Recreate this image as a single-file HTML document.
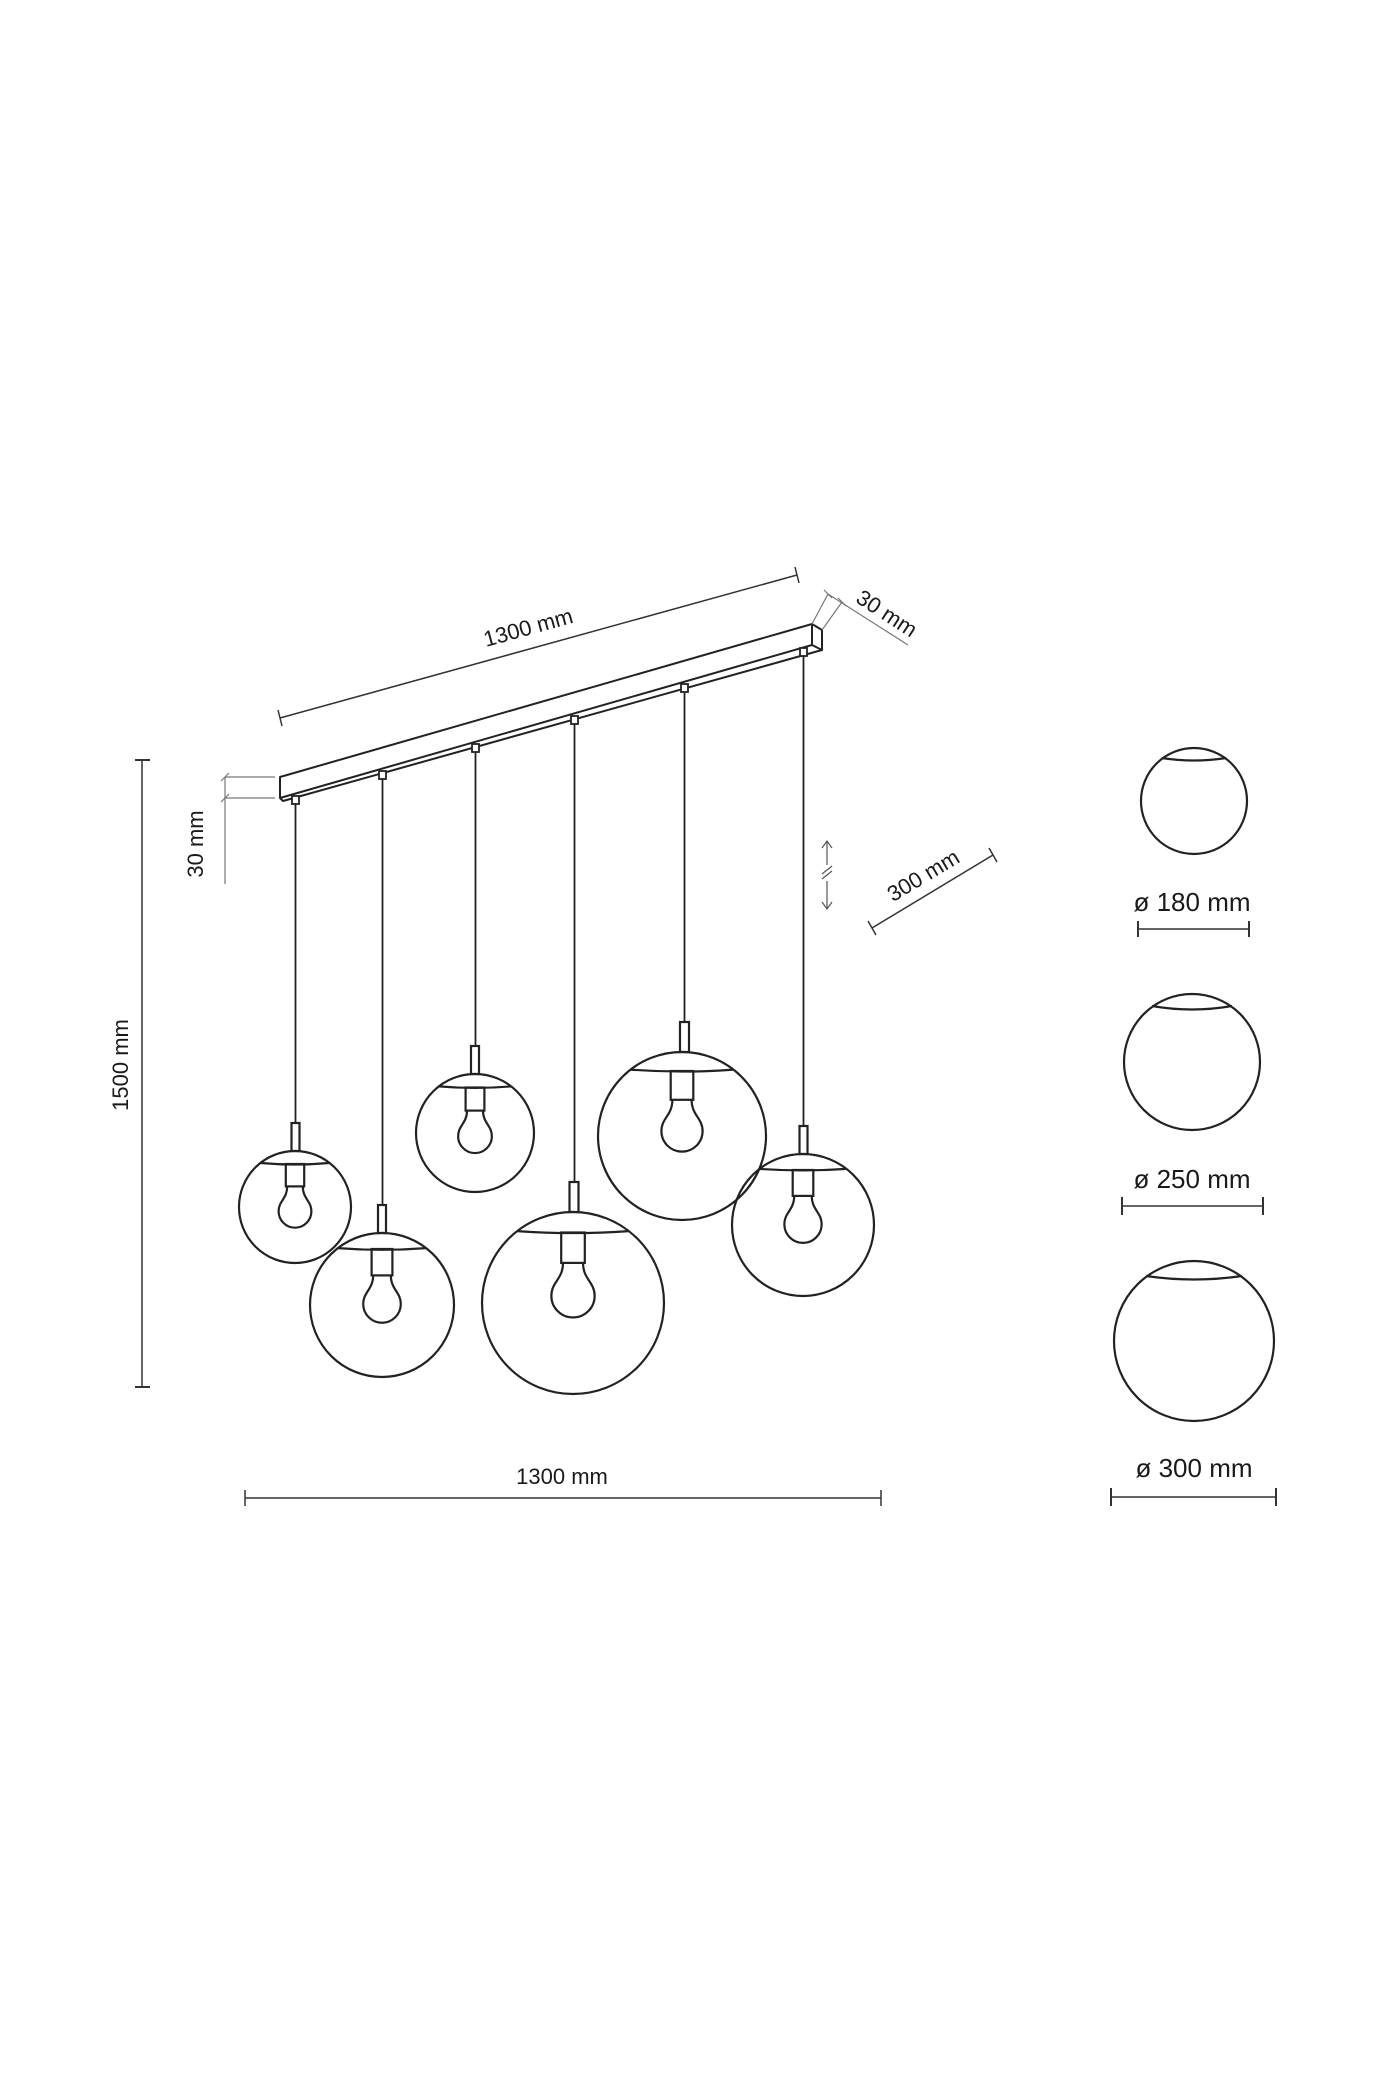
<!DOCTYPE html>
<html><head><meta charset="utf-8"><style>
html,body{margin:0;padding:0;background:#fff}
svg{display:block}
text{font-family:"Liberation Sans",sans-serif;fill:#1a1a1a}
</style></head><body>
<svg width="1400" height="2100" viewBox="0 0 1400 2100" xmlns="http://www.w3.org/2000/svg">
<g fill="none" stroke="#222" stroke-width="2" stroke-linejoin="round">
<path d="M280,777 L812,624 L822,630 L822,650 L283,801 L280,798 Z"/>
<path d="M280,798 L812,645 L812,624"/>
<path d="M812,645 L822,650"/>
</g>
<g fill="#fff" stroke="#222" stroke-width="1.8">
<rect x="292" y="796" width="7" height="8"/>
<rect x="379" y="771" width="7" height="8"/>
<rect x="472" y="744" width="7" height="8"/>
<rect x="571" y="716" width="7" height="8"/>
<rect x="681" y="684" width="7" height="8"/>
<rect x="800" y="648" width="7" height="8"/>
</g>
<g stroke="#222" stroke-width="1.8">
<line x1="295.5" y1="804" x2="295.5" y2="1123"/>
<line x1="382.5" y1="779" x2="382.5" y2="1205"/>
<line x1="475.5" y1="752" x2="475.5" y2="1046"/>
<line x1="574.5" y1="724" x2="574.5" y2="1182"/>
<line x1="684.5" y1="692" x2="684.5" y2="1022"/>
<line x1="803.5" y1="656" x2="803.5" y2="1126"/>
</g>
<g fill="none" stroke="#222" stroke-width="2.2">
<rect x="291.5" y="1123" width="8" height="28"/>
<circle cx="295" cy="1207" r="56"/>
<path d="M260.7,1163 Q295,1166 329.3,1163"/>
<rect x="285.8" y="1164" width="18.4" height="22.4"/>
<path d="M287.2,1186.4 C287.2,1198.8 278.6,1200.9 278.6,1211.3 A16.4,16.4 0 0 0 311.4,1211.3 C311.4,1200.9 302.8,1198.8 302.8,1186.4"/>
<rect x="378" y="1205" width="8" height="28"/>
<circle cx="382" cy="1305" r="72"/>
<path d="M337.9,1248.1 Q382,1251.5 426.1,1248.1"/>
<rect x="371.6" y="1249" width="20.8" height="26.4"/>
<path d="M373.15,1275.4 C373.15,1289.6 363.2,1292 363.2,1304 A18.8,18.8 0 0 0 400.8,1304 C400.8,1292 390.85,1289.6 390.85,1275.4"/>
<rect x="471" y="1046" width="8" height="28"/>
<circle cx="475" cy="1133" r="59"/>
<path d="M438.8,1086.4 Q475,1089.5 511.2,1086.4"/>
<rect x="465.6" y="1087.5" width="18.8" height="23.1"/>
<path d="M467,1110.6 C467,1123.3 458.15,1125.4 458.15,1136.2 A16.85,16.85 0 0 0 491.85,1136.2 C491.85,1125.4 483,1123.3 483,1110.6"/>
<rect x="569.5" y="1182" width="9" height="30"/>
<circle cx="573" cy="1303" r="91"/>
<path d="M517.2,1231.1 Q573,1235 628.8,1231.1"/>
<rect x="561.2" y="1232.5" width="23.6" height="30.4"/>
<path d="M563,1262.9 C563,1279.3 551.35,1282 551.35,1295.85 A21.65,21.65 0 0 0 594.65,1295.85 C594.65,1282 583,1279.3 583,1262.9"/>
<rect x="680" y="1022" width="9" height="30"/>
<circle cx="682" cy="1136" r="84"/>
<path d="M630.5,1069.6 Q682,1073.5 733.5,1069.6"/>
<rect x="670.7" y="1071" width="22.6" height="28.8"/>
<path d="M672.4,1099.8 C672.4,1115.4 661.4,1118 661.4,1131.1 A20.6,20.6 0 0 0 702.6,1131.1 C702.6,1118 691.6,1115.4 691.6,1099.8"/>
<rect x="799.5" y="1126" width="8" height="28"/>
<circle cx="803" cy="1225" r="71"/>
<path d="M759.5,1168.9 Q803,1172 846.5,1168.9"/>
<rect x="792.7" y="1170" width="20.6" height="25.9"/>
<path d="M794.2,1195.9 C794.2,1210 784.35,1212.4 784.35,1224.25 A18.65,18.65 0 0 0 821.65,1224.25 C821.65,1212.4 811.8,1210 811.8,1195.9"/>
<circle cx="1194" cy="801" r="53"/>
<path d="M1161.7,758 Q1194,763 1226.3,758"/>
<circle cx="1192" cy="1062" r="68"/>
<path d="M1152,1006 Q1192,1013 1232,1006"/>
<circle cx="1194" cy="1341" r="80"/>
<path d="M1146,1276 Q1194,1283 1242,1276"/>
</g>
<g stroke="#333" stroke-width="1.5" fill="none">
<line x1="280" y1="718" x2="797" y2="575"/>
<line x1="278" y1="710" x2="282" y2="726"/>
<line x1="795" y1="567" x2="799" y2="583"/>
<g stroke="#777" stroke-width="1.2">
<line x1="812" y1="624" x2="828" y2="594"/>
<line x1="822" y1="630" x2="842" y2="602"/>
<line x1="828" y1="594" x2="908" y2="645"/>
<line x1="824" y1="590" x2="832" y2="598"/>
<line x1="838" y1="598" x2="846" y2="606"/>
<line x1="225" y1="777" x2="275" y2="777"/>
<line x1="225" y1="798" x2="275" y2="798"/>
<line x1="225" y1="777" x2="225" y2="884"/>
<line x1="221" y1="781" x2="229" y2="773"/>
<line x1="221" y1="802" x2="229" y2="794"/>
</g>
<line x1="142" y1="760" x2="142" y2="1387"/>
<line x1="135" y1="760" x2="150" y2="760" stroke-width="2"/>
<line x1="135" y1="1387" x2="150" y2="1387" stroke-width="2"/>
<line x1="245" y1="1498" x2="881" y2="1498"/>
<line x1="245" y1="1490" x2="245" y2="1506"/>
<line x1="881" y1="1490" x2="881" y2="1506"/>
<line x1="872" y1="928" x2="993" y2="855"/>
<line x1="868" y1="921" x2="876" y2="935"/>
<line x1="989" y1="848" x2="997" y2="862"/>
<g stroke="#555" stroke-width="1.2">
<line x1="827" y1="841" x2="827" y2="865"/>
<path d="M822,848 L827,841 L832,848"/>
<line x1="822" y1="874" x2="832" y2="866"/>
<line x1="822" y1="879" x2="832" y2="871"/>
<line x1="827" y1="881" x2="827" y2="909"/>
<path d="M822,902 L827,909 L832,902"/>
</g>
<line x1="1138" y1="929" x2="1249" y2="929"/>
<line x1="1138" y1="921" x2="1138" y2="937" stroke-width="2"/>
<line x1="1249" y1="921" x2="1249" y2="937" stroke-width="2"/>
<line x1="1122" y1="1206" x2="1263" y2="1206"/>
<line x1="1122" y1="1197" x2="1122" y2="1215" stroke-width="2"/>
<line x1="1263" y1="1197" x2="1263" y2="1215" stroke-width="2"/>
<line x1="1111" y1="1497" x2="1276" y2="1497"/>
<line x1="1111" y1="1488" x2="1111" y2="1506" stroke-width="2"/>
<line x1="1276" y1="1488" x2="1276" y2="1506" stroke-width="2"/>
</g>
<text x="528" y="635" font-size="22" text-anchor="middle" transform="rotate(-15.5 528 627)">1300 mm</text>
<text x="887" y="621" font-size="22" text-anchor="middle" transform="rotate(33 887 613)">30 mm</text>
<text x="211" y="852" font-size="22" text-anchor="middle" transform="rotate(-90 203 852)">30 mm</text>
<text x="136" y="1073" font-size="22" text-anchor="middle" transform="rotate(-90 128 1073)">1500 mm</text>
<text x="923" y="883" font-size="22" text-anchor="middle" transform="rotate(-31 923 875)">300 mm</text>
<text x="562" y="1484" font-size="22" text-anchor="middle">1300 mm</text>
<text x="1192" y="911" font-size="26" text-anchor="middle">ø 180 mm</text>
<text x="1192" y="1188" font-size="26" text-anchor="middle">ø 250 mm</text>
<text x="1194" y="1477" font-size="26" text-anchor="middle">ø 300 mm</text>
</svg>
</body></html>
